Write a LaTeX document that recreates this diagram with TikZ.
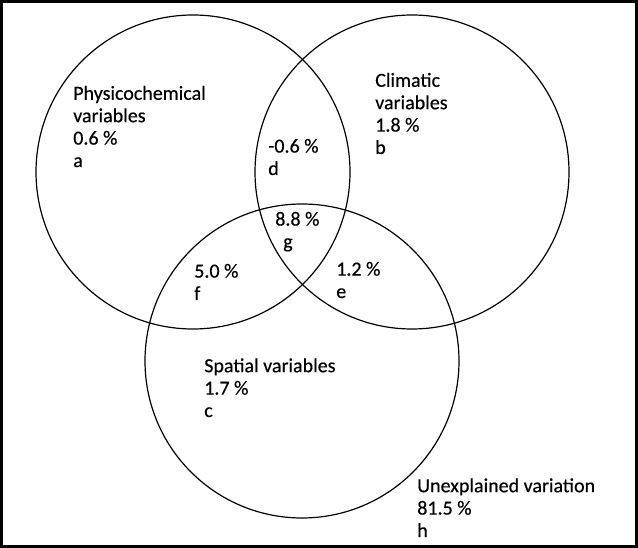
\documentclass[tikz,border=0pt]{standalone}
\usepackage{fontspec}
\setmainfont{Carlito}
\newfontfamily\venntextfont[FakeBold=0.4]{Carlito}
\usetikzlibrary{positioning}

\begin{document}
\begin{tikzpicture}[
    x=0.75pt, y=-0.75pt,
    setcircle/.style={draw, line width=0.9pt},
    settext/.style={anchor=base west, align=left, inner sep=0pt, font=\venntextfont\fontsize{15}{16.8}\selectfont}
]
\useasboundingbox (0,0) rectangle (638,548);
\draw[line width=2.25pt] (1.5,1.5) rectangle (636.5,546.5);

% the three sets
\coordinate (phys) at (193,172);
\coordinate (clim) at (412,172);
\coordinate (spat) at (302,361);
\draw[setcircle] (phys) circle [radius=157];
\draw[setcircle] (clim) circle [radius=157];
\draw[setcircle] (spat) circle [radius=157];

% fractions (placed by the baseline of their last line)
\node[settext] (a) at (73,167) {Physicochemical\\variables\\0.6 \%\\a};
\node[settext] (b) at (375,154) {Climatic\\variables\\1.8 \%\\b};
\node[settext] (c) at (204,417) {Spatial variables\\1.7 \%\\c};
\node[settext] (d) at (268,175) {-0.6 \%\\d};
\node[settext] (e) at (336,298) {1.2 \%\\e};
\node[settext] (f) at (194,300) {5.0 \%\\f};
\node[settext] (g) at (275,248) {8.8 \%\\\hspace{6pt}g};
\node[settext] (h) at (417,537) {Unexplained variation\\81.5 \%\\h};
\end{tikzpicture}
\end{document}
